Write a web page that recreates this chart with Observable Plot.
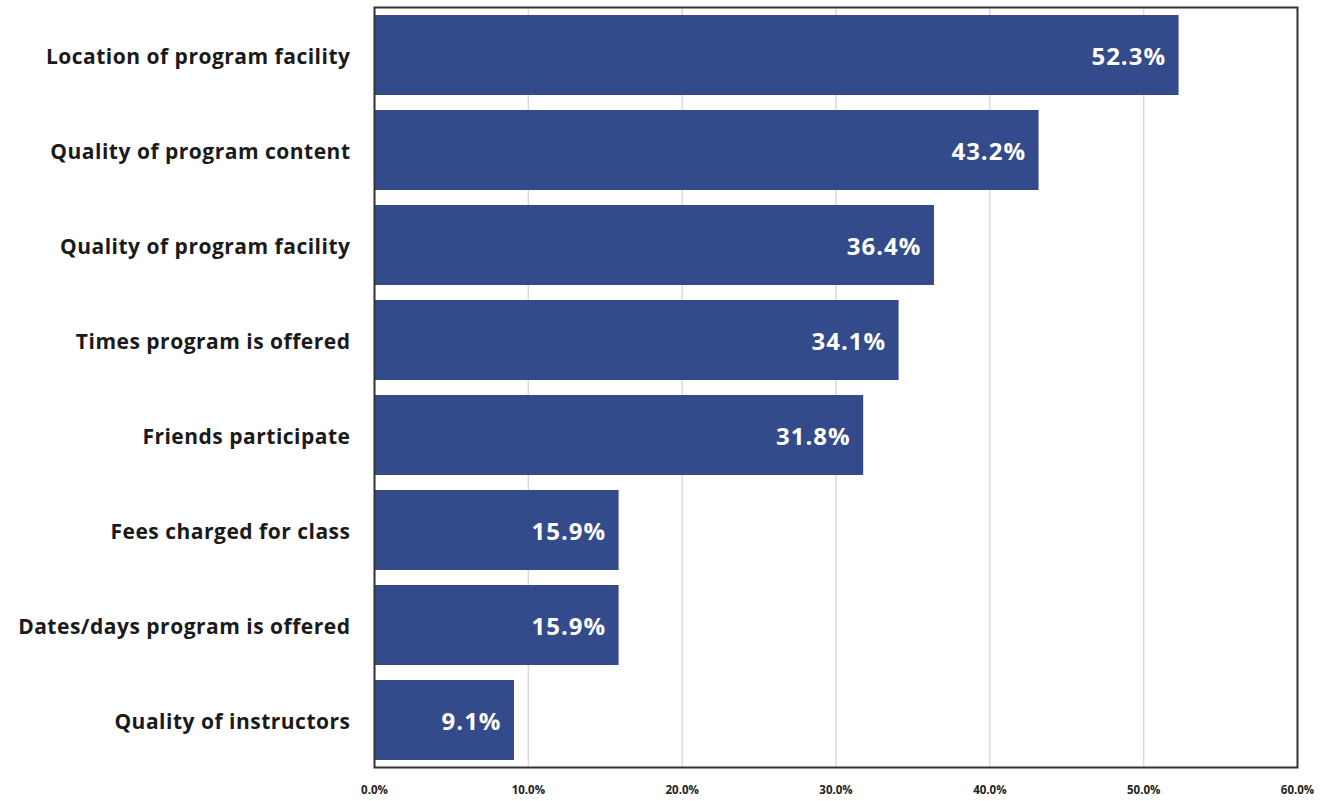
<!DOCTYPE html>
<html>
<head>
<meta charset="utf-8">
<script src="https://cdn.jsdelivr.net/npm/d3@7"></script>
<script src="https://cdn.jsdelivr.net/npm/@observablehq/plot@0.6"></script>
<style>
  html, body { margin: 0; padding: 0; background: #fff; }
  #chart svg { display: block; }
  #chart g[aria-label="y-axis tick label"] text { letter-spacing: 0.5px; }
  #chart g.value-labels text { letter-spacing: 1px; }
</style>
</head>
<body>
<div id="chart"></div>
<script>
const categories = [
  "Location of program facility",
  "Quality of program content",
  "Quality of program facility",
  "Times program is offered",
  "Friends participate",
  "Fees charged for class",
  "Dates/days program is offered",
  "Quality of instructors"
];
const values = [52.3, 43.2, 36.4, 34.1, 31.8, 15.9, 15.9, 9.1];
const xTicks = [0, 10, 20, 30, 40, 50, 60];

const data = categories.map((c, i) => ({category: c, value: values[i]}));
const barColor = "#334a8b";

const chart = Plot.plot({
  width: 1337,
  height: 801,
  marginLeft: 374,
  marginRight: 40,
  marginTop: 7,
  marginBottom: 34,
  style: {fontFamily: "'Open Sans', Lato, sans-serif", background: "#fff"},
  x: {domain: [0, 60], ticks: xTicks, tickFormat: d => d.toFixed(1) + "%"},
  y: {domain: categories, paddingInner: 0.16, paddingOuter: 0.08},
  marks: [
    Plot.gridX(xTicks, {stroke: "#d9d9d9", strokeOpacity: 1, strokeWidth: 1.5}),
    Plot.barX(data, {x: "value", y: "category", fill: barColor}),
    Plot.text(data, {
      x: "value", y: "category",
      text: d => d.value.toFixed(1) + "%",
      textAnchor: "end", dx: -13, dy: 2,
      fill: "white", fontSize: 24, fontWeight: "bold",
      className: "value-labels"
    }),
    Plot.frame({stroke: "#333", strokeWidth: 2}),
    Plot.axisX({ticks: xTicks, tickSize: 0, tickPadding: 18, tickFormat: d => d.toFixed(1) + "%",
      fontSize: 11.5, fontWeight: "bold", fill: "#222", label: null}),
    Plot.axisY({tickSize: 0, tickPadding: 24, dy: 2, fontSize: 21, fontWeight: "bold", fill: "#1a1a1a", label: null})
  ]
});
document.getElementById("chart").appendChild(chart);
</script>
</body>
</html>
